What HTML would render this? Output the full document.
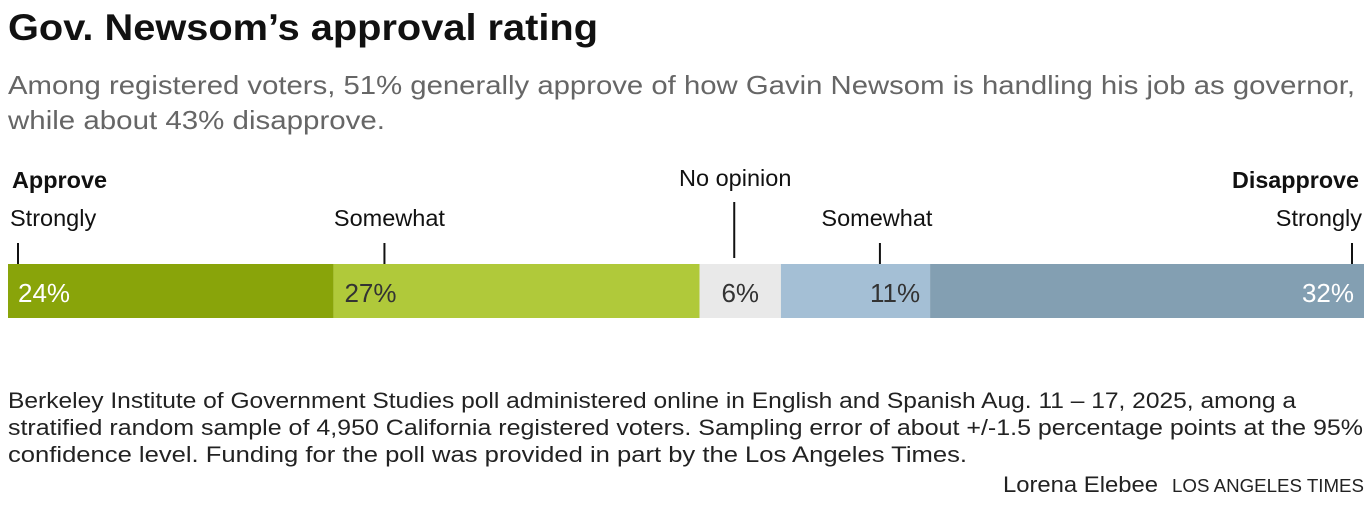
<!DOCTYPE html>
<html><head><meta charset="utf-8"><style>
body{margin:0;background:#fff;width:1372px;height:504px;overflow:hidden;font-family:"Liberation Sans",sans-serif}
</style></head><body>
<svg width="1372" height="504" font-family="Liberation Sans, sans-serif">
<text x="8" y="40" font-size="37" font-weight="bold" fill="#111" textLength="590" lengthAdjust="spacingAndGlyphs">Gov. Newsom’s approval rating</text>
<text x="8" y="94" font-size="26" fill="#666" textLength="1347" lengthAdjust="spacingAndGlyphs">Among registered voters, 51% generally approve of how Gavin Newsom is handling his job as governor,</text>
<text x="8" y="129" font-size="26" fill="#666" textLength="377" lengthAdjust="spacingAndGlyphs">while about 43% disapprove.</text>
<text x="12" y="188" font-size="23" font-weight="bold" fill="#111" textLength="95" lengthAdjust="spacingAndGlyphs">Approve</text>
<text x="1359" y="188" font-size="23" font-weight="bold" fill="#111" text-anchor="end" textLength="127" lengthAdjust="spacingAndGlyphs">Disapprove</text>
<g id="bars"></g>
<text x="8" y="408" font-size="22" fill="#222" textLength="1288" lengthAdjust="spacingAndGlyphs">Berkeley Institute of Government Studies poll administered online in English and Spanish Aug. 11 – 17, 2025, among a</text>
<text x="8" y="435" font-size="22" fill="#222" textLength="1355" lengthAdjust="spacingAndGlyphs">stratified random sample of 4,950 California registered voters. Sampling error of about +/-1.5 percentage points at the 95%</text>
<text x="8" y="462" font-size="22" fill="#222" textLength="959" lengthAdjust="spacingAndGlyphs">confidence level. Funding for the poll was provided in part by the Los Angeles Times.</text>
<text x="1003" y="492" font-size="22" fill="#222" textLength="155" lengthAdjust="spacingAndGlyphs">Lorena Elebee</text>
<text x="1172" y="492" font-size="18" fill="#222" textLength="192" lengthAdjust="spacingAndGlyphs">LOS ANGELES TIMES</text>
</svg>
<script>
const categories=["Strongly approve","Somewhat approve","No opinion","Somewhat disapprove","Strongly disapprove"];
const values=[24,27,6,11,32];
const labels=["Strongly","Somewhat","No opinion","Somewhat","Strongly"];
const colors=["#89a40a","#b0c93a","#e9e9e9","#a4bfd5","#839fb2"];
const textColors=["#fff","#333","#333","#333","#fff"];
const X0=8,X1=1364,Y=264,H=54;
const total=values.reduce((a,b)=>a+b,0);
const x=v=>X0+(X1-X0)*v/total;
const ns="http://www.w3.org/2000/svg";
const g=document.getElementById('bars');
function mk(t,a){const e=document.createElementNS(ns,t);for(const k in a)e.setAttribute(k,a[k]);g.appendChild(e);return e;}
let cum=0;
values.forEach((v,i)=>{
  const a=x(cum),b=x(cum+v);cum+=v;
  const r=mk('rect',{x:a,y:Y,width:b-a,height:H,fill:colors[i]});
  
  
  let tx,anchor;
  if(i==0){tx=a+10;anchor='start';}
  else if(i==1){tx=a+11;anchor='start';}
  else if(i==2){tx=(a+b)/2;anchor='middle';}
  else {tx=b-10;anchor='end';}
  const t=mk('text',{x:tx,y:Y+38,'font-size':26,fill:textColors[i],'text-anchor':anchor});
  t.textContent=v+'%';
  
  
  let lx,la,tk;
  if(i==0){lx=a+2;la='start';tk=a+10;}
  else if(i==4){lx=b-2;la='end';tk=b-12;}
  else if(i==1){tk=a+51;lx=tk+5;la='middle';}
  else if(i==3){tk=a+99;lx=tk-3;la='middle';}
  else {tk=(a+b)/2-6;lx=tk+1;la='middle';}
  const ly=i==2?186:226,t1=i==2?202:243,t2=i==2?258:264;
  const l=mk('text',{x:lx,y:ly,'font-size':23.5,fill:'#111','text-anchor':la});
  l.textContent=labels[i];
  
  
  const ln=mk('line',{x1:tk,x2:tk,y1:t1,y2:t2,stroke:'#111','stroke-width':2});
  
  
});
</script>
</body></html>
